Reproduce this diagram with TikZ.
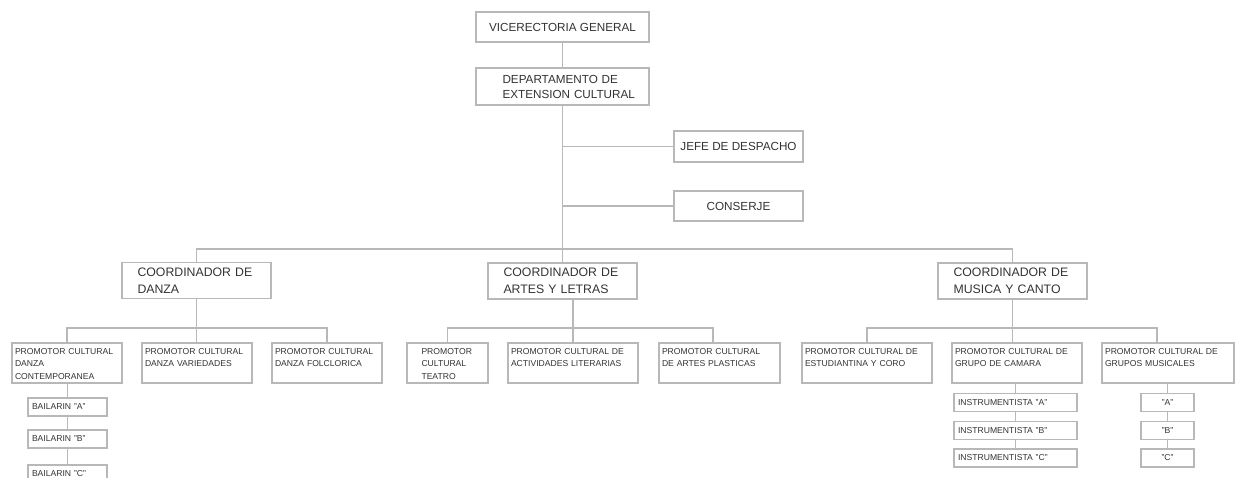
\documentclass[tikz,border=0pt]{standalone}
\usepackage{fontspec}
\setmainfont{Liberation Sans}
\definecolor{bx}{HTML}{B8B8B8}
\definecolor{tx}{HTML}{333333}
\tikzset{b/.style={draw=bx,line width=1.3pt,text=tx,rectangle,inner sep=0pt}}
\tikzset{big/.style={b,font=\fontsize{11.7}{15}\selectfont,minimum width=173pt}}
\tikzset{co/.style={b,font=\fontsize{12.3}{16.5}\selectfont,minimum width=149pt,minimum height=36pt,text width=118pt,align=left}}
\tikzset{p/.style={b,font=\fontsize{8.6}{12.3}\selectfont,inner xsep=3pt,inner ysep=3pt,text height=8.5pt,text depth=25.5pt,align=left}}
\tikzset{s/.style={b,font=\fontsize{8.6}{10}\selectfont,minimum height=18pt,inner xsep=4pt,align=left}}
\tikzset{ln/.style={draw=bx,line width=1.3pt}}

\begin{document}
\begin{tikzpicture}[x=1pt,y=-1pt]
        \clip (0,0) rectangle (1239,477);
        \node[big,minimum height=30pt] (VR) at (562.5,27) {VICERECTORIA GENERAL};
        \node[big,minimum height=37pt,text width=120pt,align=left] (DEP) at (562.5,86.5) {\mbox{DEPARTAMENTO DE}\\\mbox{EXTENSION CULTURAL}};
        \node[big,minimum width=129pt,minimum height=31pt] (JEFE) at (738.5,146.5) {JEFE DE DESPACHO};
        \node[big,minimum width=129pt,minimum height=30pt] (CONS) at (738.5,206) {CONSERJE};

        \node[co] (DAN) at (196.5,280.5) {COORDINADOR DE\\DANZA};
        \node[co] (ART) at (562.5,281) {COORDINADOR DE\\ARTES Y LETRAS};
        \node[co] (MUS) at (1012.5,281) {COORDINADOR DE\\MUSICA Y CANTO};

        \node[p,text width=104pt] (DCON) at (67,363) {PROMOTOR CULTURAL\\DANZA\\CONTEMPORANEA};
        \node[p,text width=104pt] (DVAR) at (197,363) {PROMOTOR CULTURAL\\DANZA VARIEDADES};
        \node[p,text width=104pt] (DFOL) at (327,363) {PROMOTOR CULTURAL\\DANZA FOLCLORICA};
        \node[p,minimum width=81pt,text width=52pt] (ATEA) at (447.5,363) {PROMOTOR\\CULTURAL\\TEATRO};
        \node[p,text width=124pt] (ALIT) at (573,363) {PROMOTOR CULTURAL DE\\ACTIVIDADES LITERARIAS};
        \node[p,text width=115pt] (APLA) at (719.5,363) {PROMOTOR CULTURAL\\DE ARTES PLASTICAS};
        \node[p,text width=124pt] (MEST) at (867,363) {PROMOTOR CULTURAL DE\\ESTUDIANTINA Y CORO};
        \node[p,text width=124pt] (MCAM) at (1017,363) {PROMOTOR CULTURAL DE\\GRUPO DE CAMARA};
        \node[p,text width=126pt] (MGRU) at (1168,363) {PROMOTOR CULTURAL DE\\GRUPOS MUSICALES};

        \node[s,text width=71pt] (BA) at (67.5,407) {BAILARIN "A"};
        \node[s,text width=71pt] (BB) at (67.5,439) {BAILARIN "B"};
        \node[s,text width=71pt] (BC) at (67.5,474) {BAILARIN "C"};
        \node[s,text width=115pt] (IA) at (1015.5,402.5) {INSTRUMENTISTA "A"};
        \node[s,text width=115pt] (IB) at (1015.5,430.5) {INSTRUMENTISTA "B"};
        \node[s,text width=115pt] (IC) at (1015.5,458) {INSTRUMENTISTA "C"};
        \node[s,align=center,minimum width=53pt] (GA) at (1167.5,402.5) {"A"};
        \node[s,align=center,minimum width=53pt] (GB) at (1167.5,430.5) {"B"};
        \node[s,align=center,minimum width=53pt] (GC) at (1167.5,458) {"C"};

        \coordinate (BUS) at (562.5,249);
        \coordinate (DB) at (197,328);
        \coordinate (AB) at (573,328);
        \coordinate (MB) at (1013,328);

        \draw[ln] (VR) -- (DEP);
        \draw[ln] (DEP) -- (ART);
        \draw[ln] (JEFE) -- (JEFE -| DEP);
        \draw[ln] (CONS) -- (CONS -| DEP);
        \draw[ln] (DAN) |- (BUS) -| (MUS);

        \draw[ln] (DAN) -- (DAN |- DVAR.north);
        \draw[ln] (DCON) |- (DB) -| (DFOL);
        \draw[ln] (ALIT) -- (ALIT |- ART.south);
        \draw[ln] (ATEA) |- (AB) -| ([xshift=-6.5pt]APLA.north);
        \draw[ln] (MUS) -- (MUS |- MCAM.north);
        \draw[ln] (MEST) |- (MB) -| ([xshift=-11pt]MGRU.north);

        \draw[ln] (BA) -- (BA |- DCON.south);
        \draw[ln] (BA) -- (BB);
        \draw[ln] (BB) -- (BC);
        \draw[ln] (IA) -- (IA |- MCAM.south);
        \draw[ln] (IA) -- (IB);
        \draw[ln] (IB) -- (IC);
        \draw[ln] (GA) -- (GA |- MGRU.south);
        \draw[ln] (GA) -- (GB);
        \draw[ln] (GB) -- (GC);

    \end{tikzpicture}
\end{document}
